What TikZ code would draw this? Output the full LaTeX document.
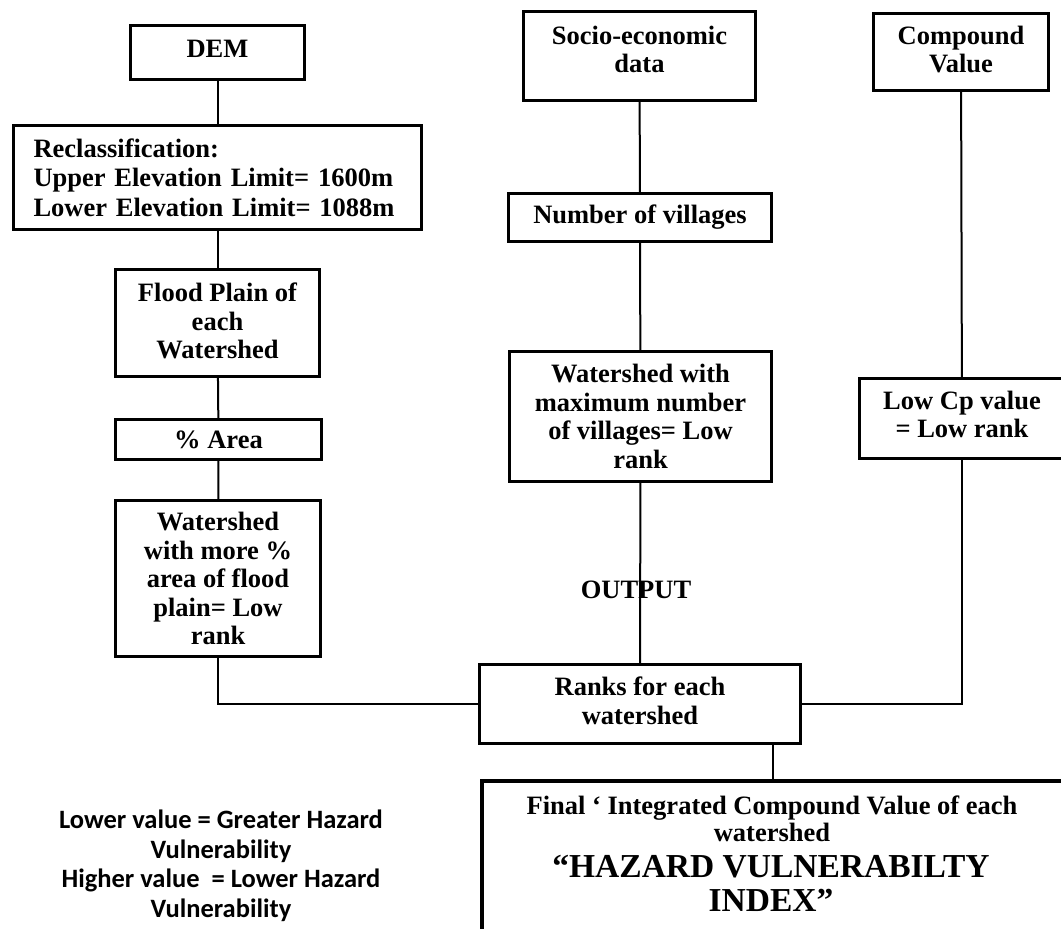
\documentclass[tikz,border=0pt]{standalone}
\usepackage{fontspec}
\setmainfont{Liberation Serif}
\newfontfamily\legendfont{Carlito}
% extra depth below the last line lifts a label inside its box
\newcommand{\liftby}[1]{\rule[-#1]{0pt}{0pt}}
\begin{document}
\begin{tikzpicture}[x=1pt,y=-1pt,
  box/.style={draw, line width=3.4pt, rectangle, inner sep=2pt, align=center,
    font=\bfseries\fontsize{26.5}{28.5}\selectfont},
  bigbox/.style={box, line width=4pt},
  txt/.style={inner sep=0pt, align=center, font=\bfseries\fontsize{26.5}{28.5}\selectfont},
  link/.style={line width=2pt}]
\clip (0,0) rectangle (1061,929);
\fill[white] (0,0) rectangle (1061,929);

% left column: elevation branch
\node[box, minimum width=174pt, minimum height=54pt] (dem) at (217.5,52.5) {DEM\liftby{8pt}};
\node[box, align=left, text width=368pt, inner xsep=20pt, minimum height=104pt,
      font=\bfseries\fontsize{26.5}{29.5}\selectfont] (reclass) at (217.5,177.5)
  {Reclassification:\\Upper Elevation Limit= 1600m\\Lower Elevation Limit= 1088m};
\node[box, minimum width=204pt, minimum height=107pt] (flood) at (217.5,323)
  {Flood Plain of\\each\\Watershed\liftby{4pt}};
\node[box, minimum width=206pt, minimum height=40pt] (area) at (218.5,439.5) {\% Area};
\node[box, minimum width=205pt, minimum height=156pt] (wsl) at (218,578.5)
  {Watershed\\with more \%\\area of flood\\plain= Low\\rank};

% middle column: socio-economic branch
\node[box, minimum width=232pt, minimum height=89pt] (socio) at (639.5,56)
  {Socio-economic\\data\liftby{13pt}};
\node[box, minimum width=263pt, minimum height=48pt] (villages) at (640,217.5)
  {Number of villages};
\node[box, minimum width=262pt, minimum height=130pt] (wsmax) at (640.5,416.5)
  {Watershed with\\maximum number\\of villages= Low\\rank};

% right column: compound value branch
\node[box, minimum width=175pt, minimum height=77pt] (compound) at (961,52)
  {Compound\\Value\liftby{5pt}};
\node[box, minimum width=205pt, minimum height=80pt] (lowcp) at (962,418.5)
  {Low Cp value\\= Low rank\liftby{8pt}};

% merge and result
\node[box, minimum width=321pt, minimum height=79pt] (ranks) at (640,704)
  {Ranks for each\\watershed\liftby{7pt}};
\node[bigbox, minimum width=582pt, minimum height=153pt] (final) at (773,857.5) {};
\node[txt, font=\bfseries\fontsize{26.5}{27}\selectfont] (finaltop) at (772,818.5)
  {Final ‘ Integrated Compound Value of each\\watershed};
\node[txt, font=\bfseries\fontsize{33.5}{34}\selectfont] (finalidx) at (771,883)
  {“HAZARD VULNERABILTY\\INDEX”};

% connectors
\draw[link] (dem) -- (reclass);
\draw[link] (reclass) -- (flood);
\draw[link] (flood) -- (area);
\draw[link] (area) -- (wsl);
\draw[link] (wsl.south) |- (ranks.west);
\draw[link] (socio) -- (villages);
\draw[link] (villages) -- (wsmax);
\draw[link] (wsmax) -- (ranks);
\draw[link] (compound) -- (lowcp);
\draw[link] (lowcp.south) |- (ranks.east);
\draw[link] (final.north |- ranks.south) -- (final.north);

\node[txt] (output) at (636,590) {OUTPUT};

% legend
\node[inner sep=0pt, align=center, font=\legendfont\bfseries\fontsize{26.5}{29.5}\selectfont]
  (legend) at (221,866)
  {Lower value = Greater Hazard\\Vulnerability\\Higher value\ \ = Lower Hazard\\Vulnerability};
\end{tikzpicture}
\end{document}
